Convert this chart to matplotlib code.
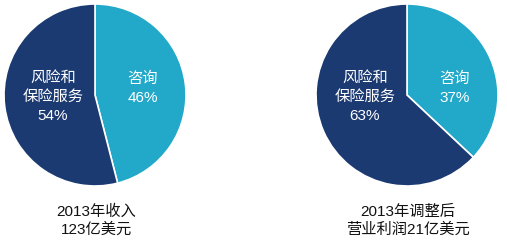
import matplotlib
matplotlib.use("Agg")
import matplotlib.pyplot as plt

segments = ["咨询", "风险和\n保险服务"]
revenue_share = [46, 54]
profit_share = [37, 63]
titles = ["2013年收入\n123亿美元", "2013年调整后\n营业利润21亿美元"]

colors = ["#22A8C8", "#1B3A72"]
fam = ["Liberation Sans", "Noto Sans CJK SC", "DejaVu Sans"]

W, H = 507, 244
fig = plt.figure(figsize=(W / 100, H / 100), dpi=100)
ax = fig.add_axes([0, 0, 1, 1])

centers = [(95, H - 95), (407, H - 95)]
radius = 91

for (cx, cy), vals, title in zip(centers, [revenue_share, profit_share], titles):
    ax.pie(vals, colors=colors, startangle=90, counterclock=False,
           center=(cx, cy), radius=radius,
           wedgeprops=dict(edgecolor="white", linewidth=1.2))
    ax.text(cx + 48, cy + 7, f"{segments[0]}\n{vals[0]}%", ha="center", va="center",
            color="white", fontsize=11, family=fam, linespacing=1.45)
    ax.text(cx - 42, cy - 2, f"{segments[1]}\n{vals[1]}%", ha="center", va="center",
            color="white", fontsize=11, family=fam, linespacing=1.45)
    ax.text(cx + 1, H - 221, title, ha="center", va="center",
            color="#111111", fontsize=11, family=fam, linespacing=1.3)

ax.set_xlim(0, W)
ax.set_ylim(0, H)
ax.set_aspect("auto")
ax.axis("off")
fig.savefig("out.png", dpi=100)
